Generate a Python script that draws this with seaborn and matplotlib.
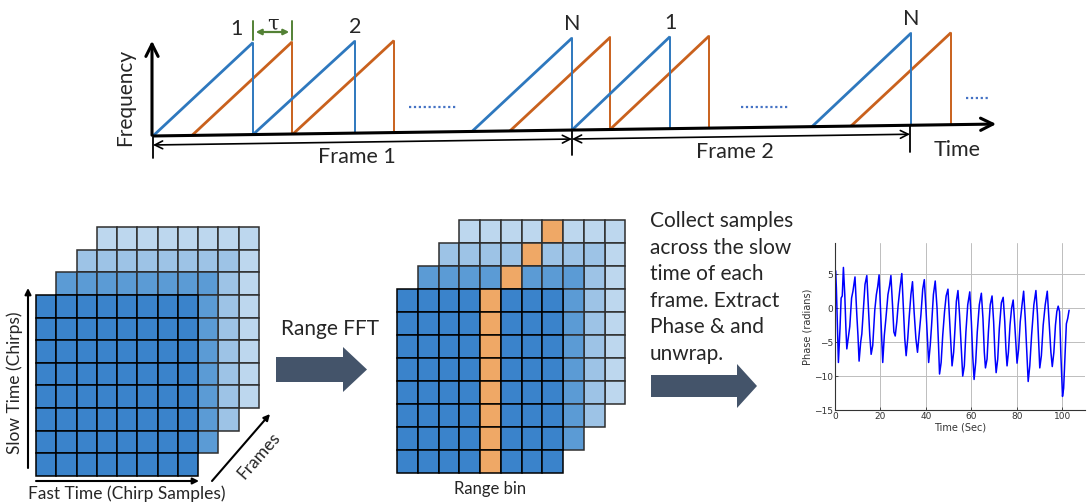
import matplotlib
matplotlib.use("Agg")
import matplotlib.pyplot as plt
from matplotlib.patches import Rectangle, Polygon
import seaborn as sns
import pandas as pd

# ---------------- data ----------------
# chirp sweep diagram (time positions along the diagram's time axis)
blue_start = [153, 253, 472, 572, 812]
blue_peak = [253, 355, 572, 670, 911]
orange_start = [192, 293, 510, 610, 851]
orange_peak = [292, 394, 610, 709, 951]
chirp_labels = ["1", "2", "N", "1", "N"]
frame_bounds = [153, 572, 910]
frame_labels = ["Frame 1", "Frame 2"]

text_lines = ["Collect samples", "across the slow", "time of each",
              "frame. Extract", "Phase & and", "unwrap."]

# unwrapped phase signal
phase_t = [0.3, 0.6, 1.5, 2.2, 2.7, 3.2, 3.7, 4.3, 4.8, 5.2, 5.8, 6.5, 7.3, 7.9, 8.8,
           9.6, 10.1, 10.6, 11.3, 11.8, 12.6, 13.2, 14.0, 14.8, 15.3, 15.9, 16.6, 17.5,
           18.2, 18.8, 19.4, 20.1, 20.5, 21.0, 21.7, 22.4, 23.3, 24.0, 24.6, 25.3, 25.9,
           26.5, 27.2, 27.8, 28.6, 29.4, 30.1, 30.7, 31.3, 32.0, 32.6, 33.4, 34.1, 34.8,
           35.6, 36.3, 37.0, 37.8, 38.6, 39.3, 40.0, 40.6, 41.2, 41.9, 42.5, 43.3, 44.1,
           44.9, 45.5, 46.0, 46.7, 47.4, 48.2, 48.9, 49.7, 50.4, 51.0, 51.5, 52.2, 52.8,
           53.4, 54.1, 54.8, 55.6, 56.2, 56.9, 57.6, 58.4, 59.3, 60.0, 60.6, 61.2, 61.9,
           62.6, 63.5, 64.4, 65.1, 65.7, 66.2, 66.9, 67.5, 68.3, 69.1, 69.8, 70.4, 70.9,
           71.6, 72.3, 73.2, 74.0, 74.7, 75.2, 75.7, 76.3, 77.0, 77.7, 78.4, 79.2, 80.1,
           80.8, 81.5, 82.3, 83.0, 83.7, 84.4, 85.0, 85.7, 86.5, 87.5, 88.4, 89.1, 89.6,
           90.1, 90.8, 91.6, 92.5, 93.4, 94.2, 95.0, 95.6, 96.3, 97.0, 97.6, 98.2, 98.8,
           99.4, 100.1, 100.6, 101.2, 101.8, 102.4, 103.0]
phase_v = [5.5, 3.0, -8.0, -3.0, 1.5, 1.8, 6.0, 2.0, -3.0, -6.0, -4.5, -2.7, 1.5, 2.5, 4.6,
           -1.0, -4.0, -7.8, -5.0, -3.8, 0.5, 3.5, 4.8, -0.5, -4.0, -6.8, -5.5, -0.3,
           2.0, 3.2, 4.9, -1.0, -4.0, -8.0, -4.0, -1.5, 2.0, 3.3, 4.8, 0.5, -3.5,
           -4.1, -2.0, 0.5, 3.0, 5.1, 0.0, -4.5, -7.0, -4.5, -1.5, 2.0, 3.9, -0.5,
           -4.5, -6.5, -4.0, -1.0, 2.8, 4.2, 0.0, -4.0, -8.0, -5.5, -2.5, 2.0, 4.0,
           0.0, -5.0, -9.7, -8.0, -4.0, -0.5, 1.8, 2.8, -1.5, -5.0, -8.5, -6.5, -3.0,
           1.0, 2.6, -1.0, -6.0, -10.0, -8.5, -3.5, 0.5, 2.4, -2.0, -7.0, -10.5, -8.0,
           -3.5, 0.5, 2.2, -1.5, -6.5, -8.8, -7.5, -3.5, 0.5, 1.8, -2.0, -7.0, -9.5,
           -7.5, -3.0, 0.8, 1.6, -2.0, -6.0, -8.5, -6.5, -2.5, 0.0, 1.2, -3.0, -8.1,
           -6.0, -2.0, 0.5, 2.5, -1.5, -6.5, -10.8, -8.5, -4.0, 0.5, 2.6, -1.0, -5.0,
           -8.8, -7.0, -2.5, 0.5, 2.5, -2.0, -6.5, -8.6, -6.5, -2.5, -0.5, 0.3, -0.5,
           -7.0, -13.0, -11.8, -7.0, -2.3, -1.5, -0.3]
phase_xticks = [0, 20, 40, 60, 80, 100]
phase_yticks = [-15, -10, -5, 0, 5]

# ---------------- style ----------------
sns.set_theme(style="white")
plt.rcParams["font.family"] = ["Lato", "DejaVu Sans"]

BLUE = "#2E78BE"
ORANGE = "#C9611D"
GREEN = "#538135"
SLATE = "#44546A"
LAYER_COLS = ["#3A83CB", "#5B9BD5", "#9DC3E6", "#BDD7EE"]
ORANGE_CELL = "#EFA866"

fig = plt.figure(figsize=(10.88, 5.03), dpi=100)
ax = fig.add_axes([0, 0, 1, 1])
ax.set_xlim(0, 1088)
ax.set_ylim(503, 0)
ax.axis("off")


def base(x):
    return 136 - (x - 152) * 12 / 845


H = 92
# axes of chirp diagram
ax.annotate("", xy=(152, 38), xytext=(152, 138),
            arrowprops=dict(arrowstyle="->", lw=2.2, color="black", mutation_scale=22))
ax.annotate("", xy=(999, 124), xytext=(151, 136),
            arrowprops=dict(arrowstyle="->", lw=2.2, color="black", mutation_scale=22))
ax.text(125, 97, "Frequency", rotation=90, ha="center", va="center", fontsize=15)
ax.text(957, 150, "Time", ha="center", va="center", fontsize=15.5)

for s, p in zip(orange_start, orange_peak):
    ax.plot([s, p], [base(s), base(p) - H], color=ORANGE, lw=2.0, solid_capstyle="butt")
    ax.plot([p, p], [base(p) - H, base(p)], color=ORANGE, lw=1.4)
for s, p in zip(blue_start, blue_peak):
    ax.plot([s, p], [base(s), base(p) - H], color=BLUE, lw=2.0, solid_capstyle="butt")
    ax.plot([p, p], [base(p) - H, base(p)], color=BLUE, lw=1.4)

for i, (p, lab) in enumerate(zip(blue_peak, chirp_labels)):
    x = p - 17 if i == 0 else p
    ax.text(x, base(p) - H - 14, lab, ha="center", va="center", fontsize=15.5)

# tau marker
t0, t1 = blue_peak[0], orange_peak[0]
for xx in (t0, t1):
    ax.plot([xx, xx], [21, 40], color=GREEN, lw=1.4)
ax.annotate("", xy=(t1, 32), xytext=(t0, 32),
            arrowprops=dict(arrowstyle="<|-|>", lw=1.6, color=GREEN, mutation_scale=8))
ax.text((t0 + t1) / 2, 24, "τ", ha="center", va="center", fontsize=15,
        family=["DejaVu Serif"])

# dotted continuation marks
for (x0, x1, y) in [(409, 457, 107), (741, 789, 107), (966, 989, 98)]:
    ax.plot([x0, x1], [y, y], color="#4472C4", lw=1.6, ls=(0, (1, 1.2)))

# frame arrows
for i in range(len(frame_labels)):
    a, b = frame_bounds[i], frame_bounds[i + 1]
    ya, yb = base(a) + 9, base(b) + 9
    ax.annotate("", xy=(b, yb), xytext=(a, ya),
                arrowprops=dict(arrowstyle="<->", lw=1.2, color="black",
                                mutation_scale=14, shrinkA=0, shrinkB=0))
    ax.text((a + b) / 2 - 6, (ya + yb) / 2 + 15, frame_labels[i], ha="center",
            va="center", fontsize=15.5)
for xx, ytop, ybot in [(153, 137, 158), (572, 131, 155), (910, 125, 152)]:
    ax.plot([xx, xx], [ytop, ybot], color="black", lw=1.3)


# ---------------- data cube grids ----------------
def draw_cube(x0, y0, w, h, orange_col=None):
    for k in range(3, -1, -1):
        ox, oy = x0 + k * w, y0 - k * h
        ec = "black" if k == 0 else "#2E2E2E"
        for r in range(8):
            for c in range(8):
                fc = LAYER_COLS[k]
                if orange_col is not None and c == orange_col:
                    fc = ORANGE_CELL
                ax.add_patch(Rectangle((ox + c * w, oy + r * h), w, h, facecolor=fc,
                                       edgecolor=ec, lw=1.1, zorder=2 + (3 - k)))


draw_cube(36, 295, 20.25, 22.6)
draw_cube(397, 289, 20.75, 23.0, orange_col=4)

# axis arrows of left cube
ax.annotate("", xy=(28, 288), xytext=(28, 468),
            arrowprops=dict(arrowstyle="-|>", lw=1.5, color="black", mutation_scale=9,
                            shrinkA=0, shrinkB=0))
ax.text(15, 383, "Slow Time (Chirps)", rotation=90, ha="center", va="center", fontsize=12.5)
ax.annotate("", xy=(199, 481), xytext=(36, 481),
            arrowprops=dict(arrowstyle="-|>", lw=1.5, color="black", mutation_scale=9,
                            shrinkA=0, shrinkB=0))
ax.text(127, 494, "Fast Time (Chirp Samples)", ha="center", va="center", fontsize=12.5)
ax.annotate("", xy=(270, 414), xytext=(212, 481),
            arrowprops=dict(arrowstyle="-|>", lw=1.5, color="black", mutation_scale=9,
                            shrinkA=0, shrinkB=0))
ax.text(259, 456, "Frames", rotation=49, ha="center", va="center", fontsize=12.5)
ax.text(490, 489, "Range bin", ha="center", va="center", fontsize=12)


# ---------------- block arrows ----------------
def block_arrow(x0, x_head, x_tip, yc, body_h, head_h):
    pts = [(x0, yc - body_h / 2), (x_head, yc - body_h / 2), (x_head, yc - head_h / 2),
           (x_tip, yc), (x_head, yc + head_h / 2), (x_head, yc + body_h / 2),
           (x0, yc + body_h / 2)]
    ax.add_patch(Polygon(pts, closed=True, facecolor=SLATE, edgecolor="none", zorder=3))


block_arrow(276, 343, 367, 369.5, 25, 45)
block_arrow(651, 737, 757, 386, 22, 44)
ax.text(330, 329, "Range FFT", ha="center", va="center", fontsize=15)

for i, line in enumerate(text_lines):
    ax.text(650, 221 + i * 26.6, line, ha="left", va="center", fontsize=15)

# ---------------- phase plot ----------------
pax = fig.add_axes([835 / 1088, 1 - 410 / 503, 250 / 1088, 167 / 503])
pax.set_zorder(5)
df = pd.DataFrame({"t": phase_t, "phase": phase_v})
sns.lineplot(data=df, x="t", y="phase", ax=pax, color="#0000FF", lw=1.1)
pax.set_xlim(0, 110)
pax.set_ylim(-15, 9.6)
pax.set_xticks(phase_xticks)
pax.set_yticks(phase_yticks)
pax.set_axisbelow(True)
pax.xaxis.grid(True, color="#BDBDBD", lw=0.7)
pax.yaxis.grid(True, color="#BDBDBD", lw=0.7)
for s in ["top", "right"]:
    pax.spines[s].set_visible(False)
for s in ["left", "bottom"]:
    pax.spines[s].set_color("#333333")
    pax.spines[s].set_linewidth(0.8)
pax.tick_params(axis="both", direction="in", length=2.5, width=0.6, labelsize=6.5,
                colors="#333333", pad=1.5, left=True, bottom=True)
pax.set_xlabel("Time (Sec)", fontsize=7, color="#333333", labelpad=1)
pax.set_ylabel("Phase (radians)", fontsize=7, color="#333333", labelpad=1)
pax.patch.set_alpha(0)
for lab in pax.get_xticklabels() + pax.get_yticklabels():
    lab.set_family(["DejaVu Sans"])
pax.xaxis.label.set_family(["DejaVu Sans"])
pax.yaxis.label.set_family(["DejaVu Sans"])

fig.savefig("out.png", dpi=100)
